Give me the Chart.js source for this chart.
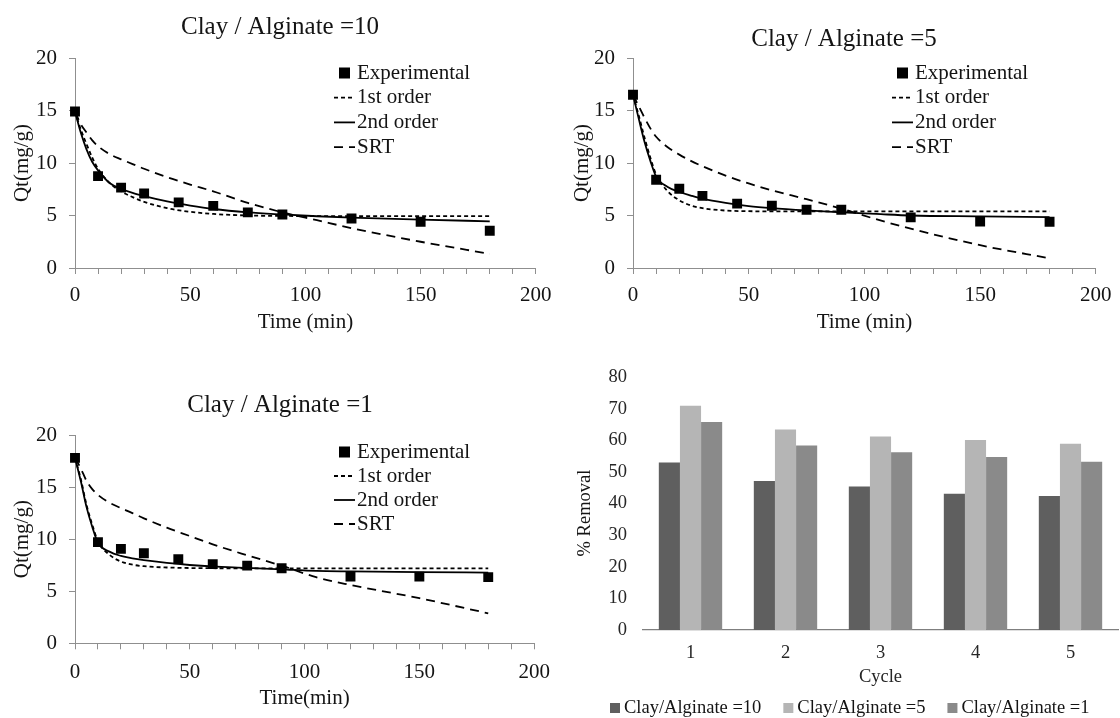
<!DOCTYPE html>
<html>
<head>
<meta charset="utf-8">
<script src="https://cdn.jsdelivr.net/npm/chart.js@4.4.1/dist/chart.umd.min.js"></script>
<style>
  body { margin: 0; background: #fff; }
  #sheet { position: relative; width: 1120px; height: 718px; background: #fff; }
  #sheet canvas { position: absolute; }
</style>
</head>
<body>
<div id="sheet">
  <canvas id="ratio10" width="560" height="350" style="left:0;top:0"></canvas>
  <canvas id="ratio5" width="560" height="350" style="left:560px;top:0"></canvas>
  <canvas id="ratio1" width="560" height="368" style="left:0;top:350px"></canvas>
  <canvas id="reuse" width="560" height="368" style="left:560px;top:350px"></canvas>
</div>
<script>
'use strict';

// sampling times (min)
const expTime = [0, 10, 20, 30, 45, 60, 75, 90, 120, 150, 180];
const fitTime = [0, 2.5, 5, 7.5, 10, 15, 20, 25, 30, 40, 50, 60, 75, 90, 105, 120, 150, 180];

// Clay / Alginate = 10
const exp10 = [14.9, 8.75, 7.65, 7.1, 6.25, 5.92, 5.3, 5.1, 4.72, 4.4, 3.55];
const first10 = [14.9, 13.2, 11.8, 10.5, 9.45, 8.1, 7.3, 6.75, 6.3, 5.7, 5.35, 5.15, 5.0, 4.96, 4.95, 4.95, 4.95, 4.95];
const second10 = [14.9, 12.9, 11.3, 10.1, 9.3, 8.1, 7.55, 7.15, 6.85, 6.35, 5.95, 5.62, 5.3, 5.1, 4.93, 4.8, 4.6, 4.45];
const srt10 = [14.9, 13.7, 12.9, 12.15, 11.6, 10.85, 10.35, 9.9, 9.45, 8.65, 7.95, 7.3, 6.2, 5.3, 4.55, 3.8, 2.5, 1.35];

// Clay / Alginate = 5
const exp5 = [16.5, 8.4, 7.55, 6.87, 6.13, 5.93, 5.55, 5.55, 4.82, 4.43, 4.4];
const first5 = [16.5, 14.5, 12.4, 10.5, 8.9, 7.3, 6.45, 5.95, 5.7, 5.47, 5.41, 5.39, 5.39, 5.39, 5.39, 5.39, 5.39, 5.39];
const second5 = [16.5, 14.2, 12.0, 10.2, 8.7, 7.72, 7.24, 6.9, 6.6, 6.2, 5.9, 5.7, 5.48, 5.3, 5.15, 5.0, 4.92, 4.85];
const srt5 = [16.5, 15.4, 14.3, 13.3, 12.5, 11.5, 10.8, 10.2, 9.7, 8.8, 8.05, 7.4, 6.55, 5.65, 4.65, 3.75, 2.17, 0.93];

// Clay / Alginate = 1
const exp1 = [17.8, 9.71, 9.07, 8.65, 8.07, 7.6, 7.46, 7.21, 6.4, 6.4, 6.35];
const first1 = [17.8, 15.8, 13.3, 11.4, 9.8, 8.5, 7.85, 7.55, 7.4, 7.28, 7.23, 7.21, 7.2, 7.2, 7.2, 7.2, 7.2, 7.2];
const second1 = [17.8, 15.6, 13.1, 11.2, 9.65, 8.8, 8.39, 8.15, 7.98, 7.72, 7.52, 7.38, 7.25, 7.1, 6.95, 6.9, 6.83, 6.79];
const srt1 = [17.8, 16.8, 15.6, 14.8, 14.25, 13.5, 12.98, 12.5, 12.0, 11.1, 10.3, 9.5, 8.45, 7.45, 6.35, 5.6, 4.33, 2.88];

// reuse cycles, % removal
const cycles = ['1', '2', '3', '4', '5'];
const removal10 = [53.0, 47.1, 45.4, 43.1, 42.4];
const removal5 = [70.9, 63.4, 61.2, 60.1, 58.9];
const removal1 = [65.8, 58.4, 56.2, 54.7, 53.2];

const SERIF = '"Liberation Serif", "Times New Roman", serif';
const INK = '#141414';
const AXIS = '#8f8f8f';

Chart.defaults.font.family = SERIF;
Chart.defaults.color = INK;

function pairs(xs, ys) {
    return xs.map((x, i) => ({ x: x, y: ys[i] }));
}

// free text: chart titles, odd axis titles
const panelText = {
    id: 'panelText',
    afterDraw(chart, args, opts) {
        const ctx = chart.ctx;
        for (const t of opts.texts || []) {
            ctx.save();
            ctx.font = t.font;
            ctx.fillStyle = INK;
            ctx.textAlign = 'center';
            ctx.textBaseline = 'middle';
            ctx.translate(t.x, t.y);
            if (t.rotate)
                ctx.rotate(t.rotate);
            ctx.fillText(t.text, 0, 0);
            ctx.restore();
        }
    }
};

// legend built from the datasets, placed freely on the canvas
const keyBox = {
    id: 'keyBox',
    afterDraw(chart, args, opts) {
        if (!opts.mode)
            return;
        const ctx = chart.ctx;
        ctx.save();
        ctx.font = opts.font;
        ctx.textBaseline = 'middle';
        let x = opts.x, y = opts.y;
        for (const ds of chart.data.datasets) {
            if (opts.mode === 'column') {
                const mid = x + opts.sample / 2;
                if (ds.showLine === false) {
                    ctx.fillStyle = ds.backgroundColor;
                    ctx.fillRect(mid - opts.box / 2, y - opts.box / 2, opts.box, opts.box);
                } else {
                    ctx.strokeStyle = ds.borderColor;
                    ctx.lineWidth = ds.borderWidth;
                    ctx.setLineDash(ds.borderDash || []);
                    ctx.beginPath();
                    ctx.moveTo(x, y);
                    ctx.lineTo(x + opts.sample, y);
                    ctx.stroke();
                    ctx.setLineDash([]);
                }
                ctx.fillStyle = INK;
                ctx.fillText(ds.label, x + opts.sample + opts.gap, y);
                y += opts.rowGap;
            } else {
                ctx.fillStyle = ds.backgroundColor;
                ctx.fillRect(x, y - opts.box / 2, opts.box, opts.box);
                ctx.fillStyle = INK;
                ctx.fillText(ds.label, x + opts.box + opts.gap, y);
                x += opts.box + opts.gap + ctx.measureText(ds.label).width + opts.itemGap;
            }
        }
        ctx.restore();
    }
};

const fitLine = {
    borderColor: '#000',
    backgroundColor: '#000',
    borderWidth: 1.8,
    pointRadius: 0,
    pointHoverRadius: 0,
    cubicInterpolationMode: 'monotone'
};

function kineticsChart(id, p) {
    return new Chart(document.getElementById(id), {
        type: 'line',
        data: {
            datasets: [
                {
                    label: 'Experimental',
                    data: pairs(expTime, p.exp),
                    showLine: false,
                    clip: 10,
                    pointStyle: 'rect',
                    pointRadius: 7,
                    pointHoverRadius: 7,
                    pointBorderWidth: 0,
                    backgroundColor: '#000',
                    borderColor: '#000'
                },
                Object.assign({ label: '1st order', data: pairs(fitTime, p.first), borderDash: [4, 3] }, fitLine),
                Object.assign({ label: '2nd order', data: pairs(fitTime, p.second) }, fitLine),
                Object.assign({ label: 'SRT', data: pairs(fitTime, p.srt), borderDash: [9, 6] }, fitLine)
            ]
        },
        options: {
            responsive: false,
            animation: false,
            layout: { padding: { top: p.top, right: p.right, left: 0, bottom: 0 } },
            scales: {
                x: {
                    type: 'linear',
                    min: 0,
                    max: 200,
                    afterFit(scale) { scale.height = p.axisHeight; },
                    border: { color: AXIS, width: 1 },
                    grid: { drawOnChartArea: false, drawTicks: true, tickLength: 6, color: AXIS },
                    ticks: {
                        stepSize: 10,
                        autoSkip: false,
                        maxRotation: 0,
                        padding: p.tickPad,
                        color: INK,
                        font: { size: 21 },
                        callback: (v) => (v % 50 === 0 ? String(v) : '')
                    },
                    title: {
                        display: true,
                        text: p.xTitle,
                        color: INK,
                        font: { size: 21, lineHeight: 1 },
                        padding: { top: 0, bottom: p.titlePad }
                    }
                },
                y: {
                    min: 0,
                    max: 20,
                    afterFit(scale) { scale.width = p.left; },
                    border: { color: AXIS, width: 1 },
                    grid: { drawOnChartArea: false, drawTicks: true, tickLength: 6, color: AXIS },
                    ticks: { stepSize: 5, padding: 12, color: INK, font: { size: 21 } },
                    title: {
                        display: true,
                        text: 'Qt(mg/g)',
                        color: INK,
                        font: { size: 21, lineHeight: 1 },
                        padding: { top: 11.5, bottom: 0 }
                    }
                }
            },
            plugins: {
                legend: { display: false },
                tooltip: { enabled: false },
                panelText: { texts: [{ text: p.title, x: p.titleX, y: p.titleY, font: '25px ' + SERIF }] },
                keyBox: {
                    mode: 'column', x: p.keyX, y: p.keyY, sample: 21, gap: 2, box: 11,
                    rowGap: p.keyGap, font: '21px ' + SERIF
                }
            }
        },
        plugins: [panelText, keyBox]
    });
}

kineticsChart('ratio10', {
    exp: exp10, first: first10, second: second10, srt: srt10,
    title: 'Clay / Alginate =10', titleX: 280, titleY: 27,
    xTitle: 'Time (min)',
    left: 75, right: 21, top: 58, axisHeight: 82, tickPad: 8.4, titlePad: 17.5,
    keyX: 334, keyY: 73, keyGap: 24.7
});

kineticsChart('ratio5', {
    exp: exp5, first: first5, second: second5, srt: srt5,
    title: 'Clay / Alginate =5', titleX: 284, titleY: 39,
    xTitle: 'Time (min)',
    left: 73, right: 23, top: 58, axisHeight: 82, tickPad: 8.4, titlePad: 17.5,
    keyX: 332, keyY: 73, keyGap: 24.7
});

kineticsChart('ratio1', {
    exp: exp1, first: first1, second: second1, srt: srt1,
    title: 'Clay / Alginate =1', titleX: 280, titleY: 55,
    xTitle: 'Time(min)',
    left: 75, right: 21, top: 85, axisHeight: 74.7, tickPad: 10.1, titlePad: 9.5,
    keyX: 334, keyY: 102, keyGap: 24
});

new Chart(document.getElementById('reuse'), {
    type: 'bar',
    data: {
        labels: cycles,
        datasets: [
            { label: 'Clay/Alginate =10', data: removal10, backgroundColor: '#5f5f5f' },
            { label: 'Clay/Alginate =5', data: removal5, backgroundColor: '#b5b5b5' },
            { label: 'Clay/Alginate =1', data: removal1, backgroundColor: '#8a8a8a' }
        ]
    },
    options: {
        responsive: false,
        animation: false,
        datasets: { bar: { categoryPercentage: 0.667, barPercentage: 1 } },
        layout: { padding: { top: 19, right: 2, left: 0, bottom: 20 } },
        scales: {
            x: {
                afterFit(scale) { scale.height = 68; },
                border: { color: '#7f7f7f', width: 1.2 },
                grid: { display: false, drawTicks: false },
                ticks: { padding: 12.2, color: '#262626', font: { size: 18.5 } },
                title: {
                    display: true,
                    text: 'Cycle',
                    color: '#262626',
                    font: { size: 18.5 },
                    padding: { top: 0, bottom: 10.2 }
                }
            },
            y: {
                min: 0,
                max: 80,
                afterFit(scale) { scale.width = 83; },
                border: { display: false },
                grid: { display: false, drawTicks: false },
                ticks: { stepSize: 10, padding: 16, color: '#262626', font: { size: 18.5 } }
            }
        },
        plugins: {
            legend: { display: false },
            tooltip: { enabled: false },
            panelText: {
                texts: [{ text: '% Removal', x: 25, y: 163, rotate: -Math.PI / 2, font: '18.5px ' + SERIF }]
            },
            keyBox: { mode: 'row', x: 50, y: 358, box: 10, gap: 4, itemGap: 22, font: '18.5px ' + SERIF }
        }
    },
    plugins: [panelText, keyBox]
});
</script>
</body>
</html>
